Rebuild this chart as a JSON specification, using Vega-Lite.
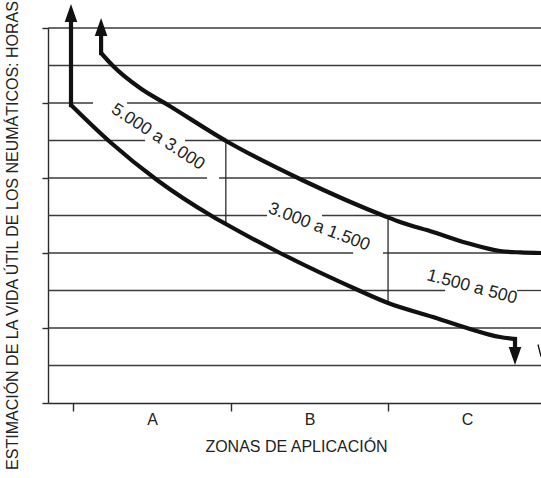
{
  "$schema": "https://vega.github.io/schema/vega-lite/v6.json",
  "width": 493,
  "height": 375,
  "autosize": {"type": "none"},
  "padding": {"left": 48, "top": 28, "right": 0, "bottom": 75},
  "background": "white",
  "config": {
    "view": {"stroke": null},
    "font": "Liberation Sans",
    "axis": {
      "domainColor": "#2a2a2a",
      "domainWidth": 1.4,
      "tickColor": "#2a2a2a",
      "tickWidth": 1.4,
      "grid": false,
      "labelColor": "#222222",
      "titleColor": "#222222",
      "titleFontWeight": "normal",
      "titleFont": "Liberation Sans",
      "labelFont": "Liberation Sans"
    }
  },
  "datasets": {
    "grid": [
      {"v": 10, "x1": 0.84, "x2": 3.97},
      {"v": 9, "x1": 0.84, "x2": 3.97},
      {"v": 8, "x1": 0.84, "x2": 1.126},
      {"v": 8, "x1": 1.342, "x2": 3.97},
      {"v": 7, "x1": 0.84, "x2": 1.456},
      {"v": 7, "x1": 1.71, "x2": 3.97},
      {"v": 6, "x1": 0.84, "x2": 1.85},
      {"v": 6, "x1": 1.926, "x2": 3.97},
      {"v": 5, "x1": 0.84, "x2": 2.231},
      {"v": 5, "x1": 2.58, "x2": 3.97},
      {"v": 4, "x1": 0.84, "x2": 2.777},
      {"v": 4, "x1": 2.967, "x2": 3.97},
      {"v": 3, "x1": 0.84, "x2": 3.361},
      {"v": 3, "x1": 3.818, "x2": 3.97},
      {"v": 2, "x1": 0.84, "x2": 3.97},
      {"v": 1, "x1": 0.84, "x2": 3.97}
    ],
    "bounds": [
      {"x": 1.969, "y1": 6.96, "y2": 4.773},
      {"x": 2.999, "y1": 4.96, "y2": 2.667}
    ],
    "curves": [
      {"s": "upper", "x": 1.177, "y": 9.333},
      {"s": "upper", "x": 1.253, "y": 8.987},
      {"s": "upper", "x": 1.424, "y": 8.4},
      {"s": "upper", "x": 1.602, "y": 7.947},
      {"s": "upper", "x": 1.982, "y": 6.96},
      {"s": "upper", "x": 2.453, "y": 5.947},
      {"s": "upper", "x": 2.992, "y": 4.96},
      {"s": "upper", "x": 3.075, "y": 4.827},
      {"s": "upper", "x": 3.284, "y": 4.56},
      {"s": "upper", "x": 3.5, "y": 4.267},
      {"s": "upper", "x": 3.71, "y": 4.053},
      {"s": "upper", "x": 3.84, "y": 4.015},
      {"s": "upper", "x": 3.97, "y": 4.0},
      {"s": "lower", "x": 0.986, "y": 7.947},
      {"s": "lower", "x": 1.234, "y": 6.96},
      {"s": "lower", "x": 1.532, "y": 5.947},
      {"s": "lower", "x": 1.88, "y": 4.987},
      {"s": "lower", "x": 1.969, "y": 4.773},
      {"s": "lower", "x": 2.313, "y": 4.0},
      {"s": "lower", "x": 2.808, "y": 3.013},
      {"s": "lower", "x": 2.999, "y": 2.667},
      {"s": "lower", "x": 3.284, "y": 2.293},
      {"s": "lower", "x": 3.5, "y": 2.0},
      {"s": "lower", "x": 3.71, "y": 1.76},
      {"s": "lower", "x": 3.805, "y": 1.707}
    ],
    "stems": [
      {"s": "upperStem", "o": 1, "x": 1.177, "y": 9.333},
      {"s": "upperStem", "o": 2, "x": 1.177, "y": 9.787},
      {"s": "lowerStem", "o": 1, "x": 0.986, "y": 7.947},
      {"s": "lowerStem", "o": 2, "x": 0.986, "y": 10.16},
      {"s": "lowerDrop", "o": 1, "x": 3.805, "y": 1.707},
      {"s": "lowerDrop", "o": 2, "x": 3.805, "y": 1.493}
    ],
    "arrows": [
      {"dir": "up", "x": 1.177, "y": 9.787},
      {"dir": "up", "x": 0.986, "y": 10.16},
      {"dir": "down", "x": 3.805, "y": 1.493}
    ]
  },
  "layer": [
    {
      "data": {"name": "grid"},
      "mark": {"type": "rule", "color": "#3a3a3a", "strokeWidth": 1.3},
      "encoding": {
        "x": {
          "field": "x1",
          "type": "quantitative",
          "scale": {"domain": [0.84, 3.97], "nice": false, "zero": false},
          "axis": {
            "values": [1, 1.5, 2, 2.5, 3, 3.5],
            "labelExpr": "datum.value == 1.5 ? 'A' : datum.value == 2.5 ? 'B' : datum.value == 3.5 ? 'C' : ''",
            "tickSize": 8,
            "tickOpacity": {"condition": {"test": "datum.value % 1 == 0", "value": 1}, "value": 0},
            "labelFontSize": 16,
            "labelPadding": 0,
            "labelFlush": false,
            "labelOverlap": false,
            "title": "ZONAS DE APLICACIÓN",
            "titleFontSize": 16,
            "titleX": 248,
            "titleY": 43,
            "titleBaseline": "middle"
          }
        },
        "x2": {"field": "x2"},
        "y": {
          "field": "v",
          "type": "quantitative",
          "scale": {"domain": [0, 10], "nice": false, "zero": false},
          "axis": {
            "values": [0, 1, 2, 3, 4, 5, 6, 7, 8, 9, 10],
            "labels": false,
            "tickSize": 6,
            "title": "ESTIMACIÓN DE LA VIDA ÚTIL DE LOS NEUMÁTICOS: HORAS",
            "titleFontSize": 16,
            "titleX": -36,
            "titleY": 207,
            "titleBaseline": "middle",
            "titleAngle": -90
          }
        }
      }
    },
    {
      "data": {"name": "bounds"},
      "mark": {"type": "rule", "color": "#2a2a2a", "strokeWidth": 1.3},
      "encoding": {
        "x": {"field": "x", "type": "quantitative"},
        "y": {"field": "y1", "type": "quantitative"},
        "y2": {"field": "y2"}
      }
    },
    {
      "data": {"name": "stems"},
      "mark": {"type": "line", "color": "#111111", "strokeWidth": 4.2, "strokeCap": "square", "clip": false},
      "encoding": {
        "x": {"field": "x", "type": "quantitative"},
        "y": {"field": "y", "type": "quantitative"},
        "detail": {"field": "s"},
        "order": {"field": "o"}
      }
    },
    {
      "data": {"name": "curves"},
      "mark": {"type": "line", "color": "#111111", "strokeWidth": 4.2, "interpolate": "monotone", "strokeCap": "butt", "clip": false},
      "encoding": {
        "x": {"field": "x", "type": "quantitative"},
        "y": {"field": "y", "type": "quantitative"},
        "detail": {"field": "s"}
      }
    },
    {
      "data": {"name": "arrows"},
      "mark": {"type": "point", "filled": true, "opacity": 1, "size": 324, "color": "#111111", "strokeWidth": 0, "clip": false},
      "encoding": {
        "x": {"field": "x", "type": "quantitative"},
        "y": {"field": "y", "type": "quantitative"},
        "shape": {
          "field": "dir",
          "type": "nominal",
          "scale": {"domain": ["up", "down"], "range": ["M0,-2L0.7,0L-0.7,0Z", "M0,2L0.7,0L-0.7,0Z"]},
          "legend": null
        }
      }
    },
    {
      "data": {"values": [{"x": 3.97, "y": 1.4}]},
      "mark": {"type": "point", "filled": false, "opacity": 1, "size": 144, "color": "#111111", "strokeWidth": 1.3, "shape": "M-0.5,-1L0,1L0.5,-1", "clip": false},
      "encoding": {
        "x": {"field": "x", "type": "quantitative"},
        "y": {"field": "y", "type": "quantitative"}
      }
    },
    {
      "data": {"values": [{"label": "5.000 a 3.000", "x": 1.538, "y": 7.093}]},
      "mark": {"type": "text", "angle": 33, "fontSize": 17.5, "font": "Liberation Sans", "color": "#222222", "align": "center", "baseline": "middle"},
      "encoding": {
        "x": {"field": "x", "type": "quantitative"},
        "y": {"field": "y", "type": "quantitative"},
        "text": {"field": "label"}
      }
    },
    {
      "data": {"values": [{"label": "3.000 a 1.500", "x": 2.561, "y": 4.693}]},
      "mark": {"type": "text", "angle": 21, "fontSize": 17.5, "font": "Liberation Sans", "color": "#222222", "align": "center", "baseline": "middle"},
      "encoding": {
        "x": {"field": "x", "type": "quantitative"},
        "y": {"field": "y", "type": "quantitative"},
        "text": {"field": "label"}
      }
    },
    {
      "data": {"values": [{"label": "1.500 a 500", "x": 3.532, "y": 3.093}]},
      "mark": {"type": "text", "angle": 15, "fontSize": 17.5, "font": "Liberation Sans", "color": "#222222", "align": "center", "baseline": "middle"},
      "encoding": {
        "x": {"field": "x", "type": "quantitative"},
        "y": {"field": "y", "type": "quantitative"},
        "text": {"field": "label"}
      }
    }
  ]
}
